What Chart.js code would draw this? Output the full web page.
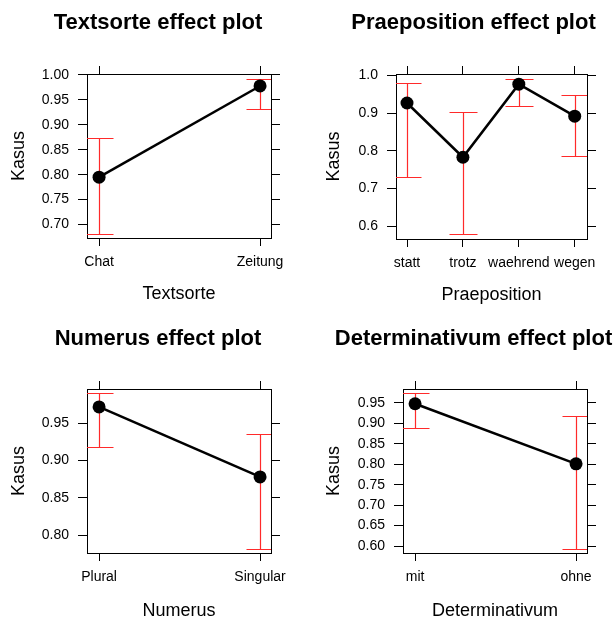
<!DOCTYPE html>
<html><head><meta charset="utf-8">
<script src="https://cdn.jsdelivr.net/npm/chart.js@4.4.1/dist/chart.umd.min.js"></script>
<style>
html,body{margin:0;padding:0;width:613px;height:619px;overflow:hidden;background:#fff;}
.panel{position:absolute;}
canvas{display:block;}
</style></head><body>
<div class="panel" style="left:0px;top:0px;"><canvas id="c1" width="306" height="310"></canvas></div>
<div class="panel" style="left:306px;top:0px;"><canvas id="c2" width="307" height="310"></canvas></div>
<div class="panel" style="left:0px;top:310px;"><canvas id="c3" width="306" height="320"></canvas></div>
<div class="panel" style="left:306px;top:310px;"><canvas id="c4" width="307" height="320"></canvas></div>
<script>
// ---------- DATA ----------
const textsorteCategories = ['Chat', 'Zeitung'];
const textsorteFit = [0.795, 0.978];
const textsorteLower = [0.681, 0.932];
const textsorteUpper = [0.873, 0.991];
const textsorteTicks = [0.70, 0.75, 0.80, 0.85, 0.90, 0.95, 1.00];
const textsorteTickLabels = ['0.70', '0.75', '0.80', '0.85', '0.90', '0.95', '1.00'];

const praepositionCategories = ['statt', 'trotz', 'waehrend', 'wegen'];
const praepositionFit = [0.927, 0.783, 0.977, 0.892];
const praepositionLower = [0.730, 0.579, 0.918, 0.787];
const praepositionUpper = [0.981, 0.903, 0.991, 0.949];
const praepositionTicks = [0.6, 0.7, 0.8, 0.9, 1.0];
const praepositionTickLabels = ['0.6', '0.7', '0.8', '0.9', '1.0'];

const numerusCategories = ['Plural', 'Singular'];
const numerusFit = [0.972, 0.878];
const numerusLower = [0.918, 0.782];
const numerusUpper = [0.990, 0.935];
const numerusTicks = [0.80, 0.85, 0.90, 0.95];
const numerusTickLabels = ['0.80', '0.85', '0.90', '0.95'];

const determinativumCategories = ['mit', 'ohne'];
const determinativumFit = [0.948, 0.801];
const determinativumLower = [0.889, 0.593];
const determinativumUpper = [0.974, 0.917];
const determinativumTicks = [0.60, 0.65, 0.70, 0.75, 0.80, 0.85, 0.90, 0.95];
const determinativumTickLabels = ['0.60', '0.65', '0.70', '0.75', '0.80', '0.85', '0.90', '0.95'];

const yAxisTitle = 'Kasus';

// ---------- LAYOUT ----------
const FONT = '"Liberation Sans", Arial, Helvetica, sans-serif';
Chart.defaults.font.family = FONT;
Chart.defaults.color = '#000';

const panels = [
  { id: 'c1', title: 'Textsorte effect plot', xTitle: 'Textsorte',
    cats: textsorteCategories, fit: textsorteFit, lower: textsorteLower, upper: textsorteUpper,
    ticks: textsorteTicks, tickLabels: textsorteTickLabels,
    W: 306, H: 310, area: { l: 87, t: 74, r: 271, b: 238 },
    xRange: [0.925, 2.068], yRange: [0.673, 1.002],
    titlePos: [158, 23.3], yTitlePad: 8.7, xTitlePad: 5.4 },
  { id: 'c2', title: 'Praeposition effect plot', xTitle: 'Praeposition',
    cats: praepositionCategories, fit: praepositionFit, lower: praepositionLower, upper: praepositionUpper,
    ticks: praepositionTicks, tickLabels: praepositionTickLabels,
    W: 307, H: 310, area: { l: 90, t: 74, r: 281, b: 239 },
    xRange: [0.803, 4.22], yRange: [0.566, 1.004],
    titlePos: [167.5, 23.3], yTitlePad: 17.4, xTitlePad: 4.2 },
  { id: 'c3', title: 'Numerus effect plot', xTitle: 'Numerus',
    cats: numerusCategories, fit: numerusFit, lower: numerusLower, upper: numerusUpper,
    ticks: numerusTicks, tickLabels: numerusTickLabels,
    W: 306, H: 320, area: { l: 87, t: 79, r: 271, b: 243 },
    xRange: [0.925, 2.068], yRange: [0.776, 0.996],
    titlePos: [158, 29], yTitlePad: 8.5, xTitlePad: 8.4 },
  { id: 'c4', title: 'Determinativum effect plot', xTitle: 'Determinativum',
    cats: determinativumCategories, fit: determinativumFit, lower: determinativumLower, upper: determinativumUpper,
    ticks: determinativumTicks, tickLabels: determinativumTickLabels,
    W: 307, H: 320, area: { l: 97, t: 79, r: 281, b: 243 },
    xRange: [0.925, 2.068], yRange: [0.583, 0.984],
    titlePos: [167.5, 29], yTitlePad: 17.4, xTitlePad: 8.4 }
];

const panelTitle = {
  id: 'panelTitle',
  afterDraw(chart, args, opts) {
    const ctx = chart.ctx;
    ctx.save();
    ctx.font = 'bold 22px ' + FONT;
    ctx.fillStyle = '#000';
    ctx.textAlign = 'center';
    ctx.textBaseline = 'middle';
    ctx.fillText(opts.text, opts.x, opts.y);
    ctx.restore();
  }
};

const errorBars = {
  id: 'errorBars',
  beforeDatasetsDraw(chart, args, opts) {
    const { ctx, chartArea: a } = chart;
    const xs = chart.scales.x, ys = chart.scales.y;
    ctx.save();
    ctx.beginPath();
    ctx.rect(a.left, a.top, a.right - a.left, a.bottom - a.top);
    ctx.clip();
    ctx.strokeStyle = opts.color;
    ctx.lineWidth = 1.2;
    opts.lower.forEach((lo, i) => {
      const px = Math.round(xs.getPixelForValue(i + 1)) + 0.5;
      const yl = Math.round(ys.getPixelForValue(lo)) + 0.5;
      const yu = Math.round(ys.getPixelForValue(opts.upper[i])) + 0.5;
      ctx.beginPath();
      ctx.moveTo(px, yl); ctx.lineTo(px, yu);
      ctx.moveTo(px - opts.cap, yl); ctx.lineTo(px + opts.cap, yl);
      ctx.moveTo(px - opts.cap, yu); ctx.lineTo(px + opts.cap, yu);
      ctx.stroke();
    });
    ctx.restore();
  }
};

function makeChart(p) {
  const A = p.area;
  const catTicks = () => p.cats.map((c, i) => ({ value: i + 1 }));
  const valTicks = () => p.ticks.map(v => ({ value: v }));
  const axisGrid = (len) => ({ drawOnChartArea: false, drawTicks: true, tickLength: len, color: '#000', lineWidth: 1 });
  const border = { display: true, color: '#000', width: 1 };
  new Chart(document.getElementById(p.id), {
    type: 'line',
    data: {
      datasets: [{
        data: p.fit.map((v, i) => ({ x: i + 1, y: v })),
        borderColor: '#000',
        backgroundColor: '#000',
        borderWidth: 2.5,
        pointRadius: 6.5,
        pointBackgroundColor: '#000',
        pointBorderColor: '#000',
        pointBorderWidth: 0,
        tension: 0,
        xAxisID: 'x', yAxisID: 'y'
      }]
    },
    options: {
      responsive: false,
      animation: false,
      events: [],
      layout: { padding: 0, autoPadding: false },
      plugins: {
        legend: { display: false },
        tooltip: { enabled: false },
        title: { display: false },
        panelTitle: { text: p.title, x: p.titlePos[0], y: p.titlePos[1] },
        errorBars: { lower: p.lower, upper: p.upper, color: '#ff2a2a', cap: 14 }
      },
      scales: {
        x: {
          type: 'linear', position: 'bottom', bounds: 'data',
          min: p.xRange[0], max: p.xRange[1],
          afterBuildTicks: s => { s.ticks = catTicks(); },
          afterFit: s => { s.height = p.H - A.b; },
          ticks: { autoSkip: false, maxRotation: 0, minRotation: 0, padding: 8,
                   font: { size: 14 }, color: '#000',
                   callback: (v, i) => p.cats[i] },
          grid: axisGrid(8), border: border,
          title: { display: true, text: p.xTitle, font: { size: 18 }, color: '#000',
                   padding: { top: 0, bottom: p.xTitlePad } }
        },
        x2: {
          type: 'linear', position: 'top', bounds: 'data',
          min: p.xRange[0], max: p.xRange[1],
          afterBuildTicks: s => { s.ticks = catTicks(); },
          afterFit: s => { s.height = A.t; },
          ticks: { display: false },
          grid: axisGrid(8), border: border
        },
        y: {
          type: 'linear', position: 'left', bounds: 'data',
          min: p.yRange[0], max: p.yRange[1],
          afterBuildTicks: s => { s.ticks = valTicks(); },
          afterFit: s => { s.width = A.l; },
          ticks: { autoSkip: false, padding: 9, font: { size: 14 }, color: '#000',
                   callback: (v, i) => p.tickLabels[i] },
          grid: axisGrid(9), border: border,
          title: { display: true, text: yAxisTitle, font: { size: 18 }, color: '#000',
                   padding: { top: p.yTitlePad, bottom: 0 } }
        },
        y2: {
          type: 'linear', position: 'right', bounds: 'data',
          min: p.yRange[0], max: p.yRange[1],
          afterBuildTicks: s => { s.ticks = valTicks(); },
          afterFit: s => { s.width = p.W - A.r; },
          ticks: { display: false },
          grid: axisGrid(9), border: border
        }
      }
    },
    plugins: [errorBars, panelTitle]
  });
}

panels.forEach(makeChart);
</script>
</body></html>
